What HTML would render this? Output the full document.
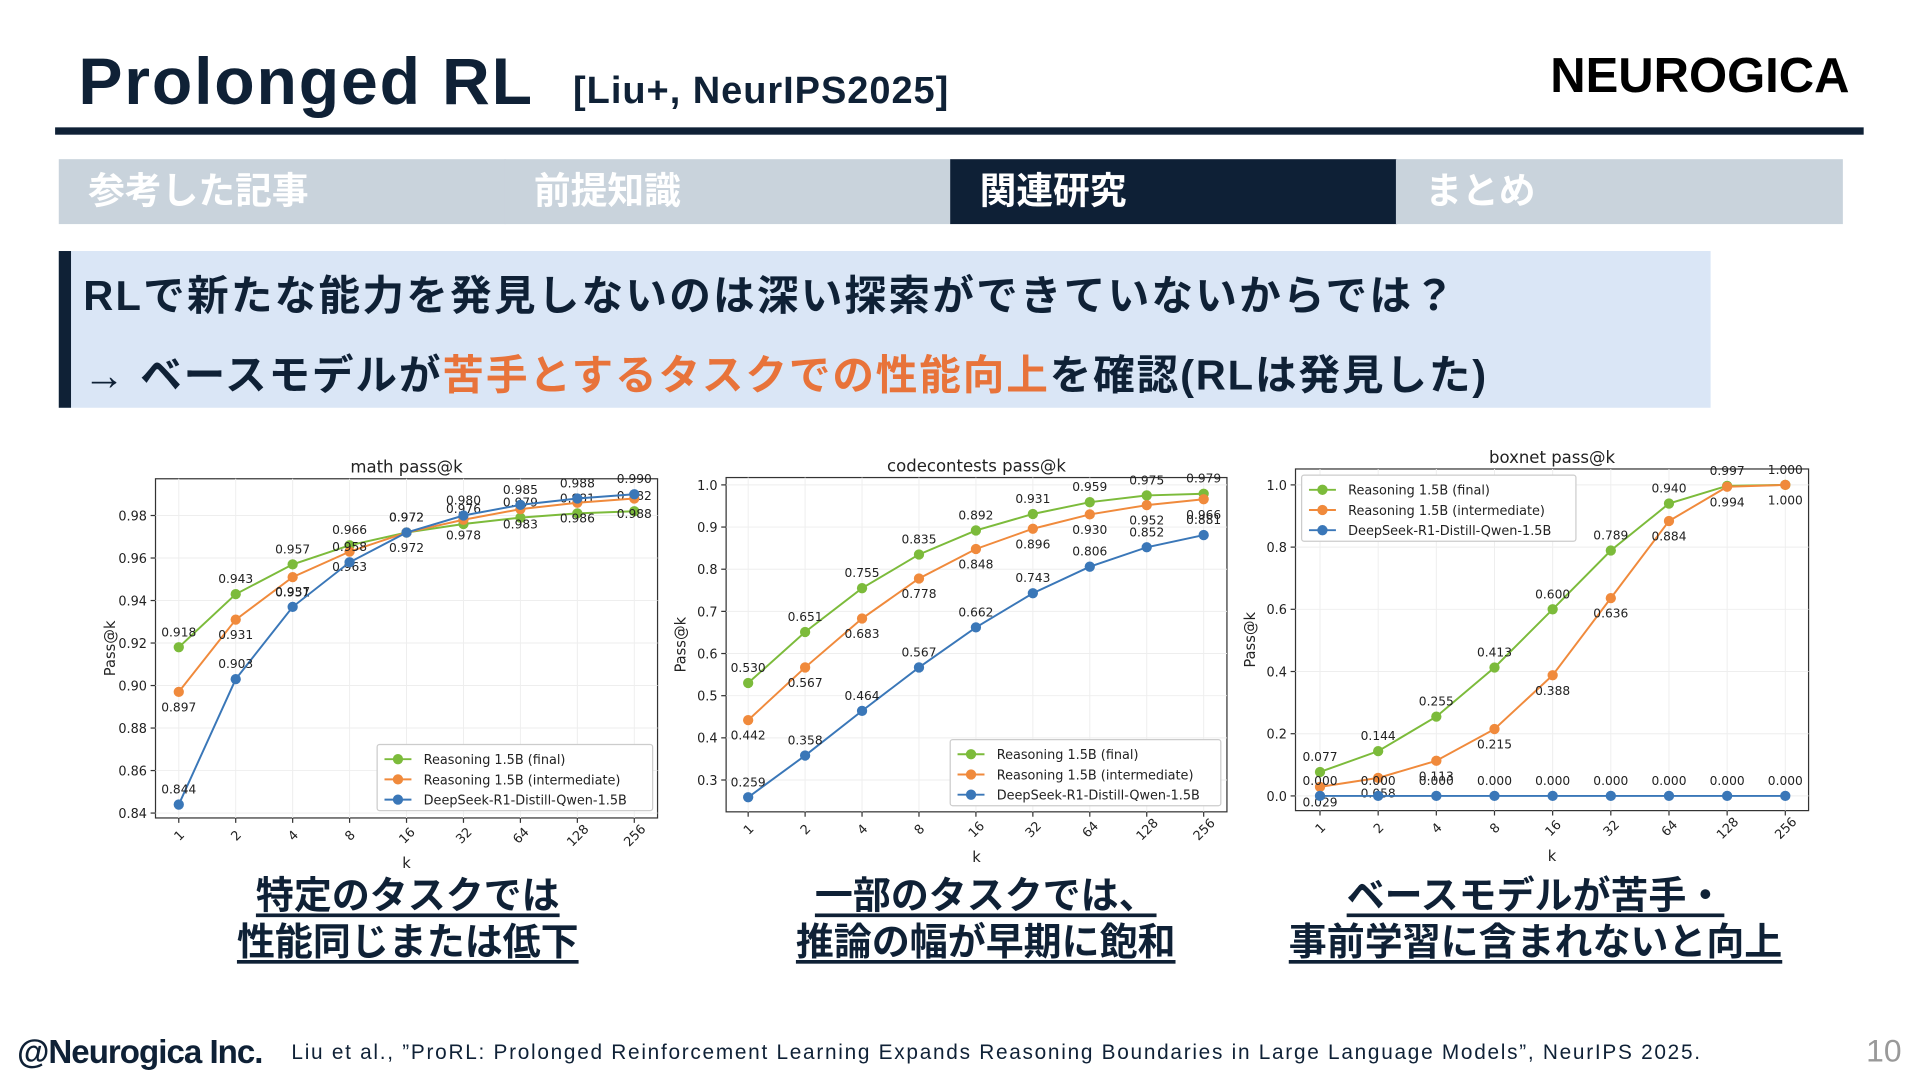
<!DOCTYPE html>
<html><head><meta charset="utf-8">
<style>
html,body{margin:0;padding:0;width:1920px;height:1080px;overflow:hidden;background:#fff}
#stage{position:absolute;left:0;top:0;width:1568px;height:882px;transform:scale(1.22449);transform-origin:0 0;font-family:"Liberation Sans","Noto Sans CJK JP",sans-serif;color:#0f2136}
.abs{position:absolute;white-space:nowrap}
.tab{position:absolute;top:130px;height:53px;background:#c9d3dc;color:#fff;font-weight:bold;font-size:30px;line-height:53px;box-sizing:border-box;padding-left:24px}
.cap{position:absolute;text-align:center;font-weight:bold;font-size:31px;line-height:38px;color:#0f2136}
.cap span{text-decoration:underline;text-decoration-thickness:3px;text-underline-offset:4px}
svg text{font-family:"DejaVu Sans","Liberation Sans",sans-serif}
</style></head><body>
<div id="stage">
<div class="abs" style="left:64px;top:36px;font-size:54px;font-weight:bold;letter-spacing:1.5px">Prolonged RL</div>
<div class="abs" style="left:468px;top:56px;font-size:31px;font-weight:bold;letter-spacing:0.8px">[Liu+, NeurIPS2025]</div>
<div class="abs" style="left:1266px;top:40px;font-size:40px;font-weight:bold;color:#000;letter-spacing:0px">NEUROGICA</div>
<div class="abs" style="left:45px;top:104px;width:1477px;height:6px;background:#0f2136"></div>

<div class="tab" style="left:48px;width:365px">参考した記事</div>
<div class="tab" style="left:412px;width:365px">前提知識</div>
<div class="tab" style="left:776px;width:365px;background:#0e2036">関連研究</div>
<div class="tab" style="left:1140px;width:365px">まとめ</div>

<div class="abs" style="left:48px;top:205px;width:1349px;height:128px;background:#dae6f6;border-left:10px solid #0f2136;box-sizing:border-box"></div>
<div class="abs" style="left:68px;top:214px;font-size:34px;font-weight:bold;letter-spacing:1.8px">RLで新たな能力を発見しないのは深い探索ができていないからでは？</div>
<div class="abs" style="left:68px;top:279px;font-size:34px;font-weight:bold;letter-spacing:1.5px">→ ベースモデルが<span style="color:#e8733a">苦手とするタスクでの性能向上</span>を確認(RLは発見した)</div>

<svg id="charts" width="1568" height="882" style="position:absolute;left:0;top:0"></svg>

<div class="cap" style="left:133px;width:400px;top:713px"><span>特定のタスクでは</span><br><span>性能同じまたは低下</span></div>
<div class="cap" style="left:585px;width:440px;top:713px"><span>一部のタスクでは、</span><br><span>推論の幅が早期に飽和</span></div>
<div class="cap" style="left:1014px;width:480px;top:713px"><span>ベースモデルが苦手・</span><br><span>事前学習に含まれないと向上</span></div>

<div class="abs" style="left:14px;top:844px;font-size:27px;font-weight:bold;letter-spacing:-0.8px">@Neurogica Inc.</div>
<div class="abs" style="left:238px;top:850px;font-size:17px;letter-spacing:1.4px">Liu et al., ”ProRL: Prolonged Reinforcement Learning Expands Reasoning Boundaries in Large Language Models”, NeurIPS 2025.</div>
<div class="abs" style="left:1524px;top:843px;font-size:26px;color:#999">10</div>
</div>
<script>
const kLabels = ["1","2","4","8","16","32","64","128","256"];
const seriesNames = ["Reasoning 1.5B (final)","Reasoning 1.5B (intermediate)","DeepSeek-R1-Distill-Qwen-1.5B"];
const mathFinal = [0.918,0.943,0.957,0.966,0.972,0.976,0.979,0.981,0.982];
const mathInter = [0.897,0.931,0.951,0.963,0.972,0.978,0.983,0.986,0.988];
const mathBase  = [0.844,0.903,0.937,0.958,0.972,0.980,0.985,0.988,0.990];
const codeFinal = [0.530,0.651,0.755,0.835,0.892,0.931,0.959,0.975,0.979];
const codeInter = [0.442,0.567,0.683,0.778,0.848,0.896,0.930,0.952,0.966];
const codeBase  = [0.259,0.358,0.464,0.567,0.662,0.743,0.806,0.852,0.881];
const boxFinal  = [0.077,0.144,0.255,0.413,0.600,0.789,0.940,0.997,1.000];
const boxInter  = [0.029,0.058,0.113,0.215,0.388,0.636,0.884,0.994,1.000];
const boxBase   = [0,0,0,0,0,0,0,0,0];
const mathTicks = [0.84,0.86,0.88,0.90,0.92,0.94,0.96,0.98];
const codeTicks = [0.3,0.4,0.5,0.6,0.7,0.8,0.9,1.0];
const boxTicks  = [0.0,0.2,0.4,0.6,0.8,1.0];

const colors = ["#7cbb3b","#f08a3c","#3a77b8"];
const NS = "http://www.w3.org/2000/svg";
const svg = document.getElementById("charts");
function mk(tag, attrs, parent){const e=document.createElementNS(NS,tag);for(const k in attrs)e.setAttribute(k,attrs[k]);(parent||svg).appendChild(e);return e;}

function chart(cfg){
  const g = mk("g",{});
  
  
  const {L,T,R,B,x0,x1,v0,y0,v1,y1} = cfg;
  const xs = i => x0 + (x1-x0)*i/(kLabels.length-1);
  const ys = v => y0 + (v-v0)*(y1-y0)/(v1-v0);
  mk("rect",{x:L,y:T,width:R-L,height:B-T,fill:"#fff",stroke:"#333","stroke-width":1},g);
  cfg.ticks.forEach(t=>{
    const y=ys(t);
    mk("line",{x1:L,x2:R,y1:y,y2:y,stroke:"#eee","stroke-width":0.8},g);
    mk("line",{x1:L-4,x2:L,y1:y,y2:y,stroke:"#333"},g);
    const tx=mk("text",{x:L-7,y:y+4,"font-size":10.5,"text-anchor":"end",fill:"#222"},g);
    
    
    tx.textContent=cfg.fmt(t);
  });
  kLabels.forEach((k,i)=>{
    const x=xs(i);
    mk("line",{x1:x,x2:x,y1:T,y2:B,stroke:"#eee","stroke-width":0.8},g);
    mk("line",{x1:x,x2:x,y1:B,y2:B+4,stroke:"#333"},g);
    const tx=mk("text",{x:x,y:B+18,"font-size":10.5,"text-anchor":"middle",fill:"#222",transform:`rotate(-45 ${x} ${B+14})`},g);
    
    
    tx.textContent=k;
  });
  const tt=mk("text",{x:(L+R)/2,y:T-5,"font-size":13.5,"text-anchor":"middle",fill:"#222"},g);
  
  
  tt.textContent=cfg.title;
  const xl=mk("text",{x:(L+R)/2,y:B+41,"font-size":12,"text-anchor":"middle",fill:"#222"},g);
  
  
  xl.textContent="k";
  const yl=mk("text",{x:L-33,y:(T+B)/2,"font-size":12,"text-anchor":"middle",fill:"#222",transform:`rotate(-90 ${L-33} ${(T+B)/2})`},g);
  
  
  yl.textContent="Pass@k";
  cfg.series.forEach((vals,si)=>{
    const pts=vals.map((v,i)=>xs(i)+","+ys(v)).join(" ");
    const pl=mk("polyline",{points:pts,fill:"none",stroke:colors[si],"stroke-width":1.6},g);
    
    
    vals.forEach((v,i)=>{
      const c=mk("circle",{cx:xs(i),cy:ys(v),r:4.2,fill:colors[si]},g);
      
      
      const above = cfg.above[si];
      const lt=mk("text",{x:xs(i),y:ys(v)+(above?-9:16),"font-size":10,"text-anchor":"middle",fill:"#222"},g);
      
      
      lt.textContent=v.toFixed(3);
    });
  });
  const lg=cfg.legend;
  const lb=mk("rect",{x:lg.x,y:lg.y,width:lg.w,height:54,fill:"#fff",stroke:"#ccc",rx:2},g);
  
  
  seriesNames.forEach((n,si)=>{
    const y=lg.y+12+si*16.5;
    mk("line",{x1:lg.x+6,x2:lg.x+28,y1:y,y2:y,stroke:colors[si],"stroke-width":1.6},g);
    mk("circle",{cx:lg.x+17,cy:y,r:4.2,fill:colors[si]},g);
    const t=mk("text",{x:lg.x+38,y:y+4,"font-size":10.5,fill:"#222"},g);
    
    
    t.textContent=n;
  });
}
chart({name:"math-chart",title:"math pass@k",L:127,T:391,R:537,B:668,x0:146,x1:518,v0:0.84,y0:664,v1:0.98,y1:421,
  ticks:mathTicks,fmt:t=>t.toFixed(2),series:[mathFinal,mathInter,mathBase],above:[true,false,true],legend:{x:308,y:608,w:225}});
chart({name:"codecontests-chart",title:"codecontests pass@k",L:593,T:390,R:1002,B:663,x0:611,x1:983,v0:0.3,y0:637,v1:1.0,y1:396,
  ticks:codeTicks,fmt:t=>t.toFixed(1),series:[codeFinal,codeInter,codeBase],above:[true,false,true],legend:{x:776,y:604,w:221}});
chart({name:"boxnet-chart",title:"boxnet pass@k",L:1058,T:383,R:1477,B:662,x0:1078,x1:1458,v0:0.0,y0:650,v1:1.0,y1:396,
  ticks:boxTicks,fmt:t=>t.toFixed(1),series:[boxFinal,boxInter,boxBase],above:[true,false,true],legend:{x:1063,y:388,w:224}});
</script>
</body></html>
